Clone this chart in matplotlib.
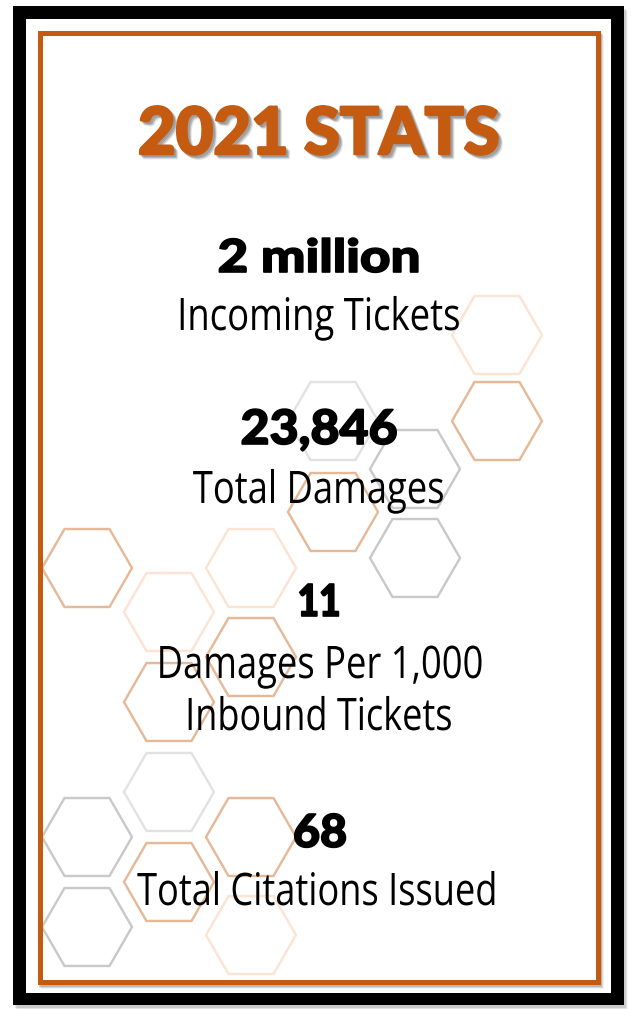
import numpy as np
import matplotlib
matplotlib.use("Agg")
import matplotlib.pyplot as plt
import matplotlib.colors as mcolors
from matplotlib.patches import Rectangle, RegularPolygon
from matplotlib.patheffects import AbstractPathEffect
from matplotlib.transforms import Affine2D
from matplotlib import font_manager

# ---------------- data ----------------
title = "2021 STATS"
stat_values = ["2 million", "23,846", "11", "68"]
stat_labels = ["Incoming Tickets", "Total Damages",
               "Damages Per 1,000\nInbound Tickets", "Total Citations Issued"]

hex_x = [87, 87, 87, 169, 169, 169, 169, 251, 251, 251, 251, 333, 333, 415, 415, 497, 497]
hex_y = [568, 837, 927, 612, 702, 792, 882, 568, 657, 837, 935, 421, 512, 469, 558, 335, 421]
hex_style = ["tan", "gray", "gray", "peach", "tan", "lgray", "tan", "peach", "tan", "tan",
             "peach", "lgray", "tan", "gray", "gray", "peach", "tan"]

# ---------------- styles ----------------
W, H = 631, 1009
ORANGE = "#c55a11"
HEX_COLORS = {"tan": "#e5b898", "peach": "#fce3d3", "lgray": "#e2e2e2", "gray": "#c9c9c9"}
HEX_R = 45


def pick(cands):
    for c in cands:
        try:
            font_manager.findfont(font_manager.FontProperties(family=c), fallback_to_default=False)
            return c
        except Exception:
            pass
    return "DejaVu Sans"


BOLD_FAM = pick(["Lato", "Roboto", "Open Sans", "DejaVu Sans"])
LIGHT_FAM = pick(["Open Sans", "Noto Sans", "Lato", "DejaVu Sans"])


class HScale(AbstractPathEffect):
    """Horizontally condense text path about its centre (optionally as a shadow / emboldened)."""

    def __init__(self, sx, offset=(0, 0), color=None, alpha=1.0, stroke=0.0):
        super().__init__(offset)
        self.sx = sx
        self.color = color
        self.alpha = alpha
        self.stroke = stroke

    def draw_path(self, renderer, gc, tpath, affine, rgbFace=None):
        bb = tpath.get_extents(affine)
        cx = 0.5 * (bb.x0 + bb.x1)
        aff = (affine + Affine2D().translate(-cx, 0).scale(self.sx, 1).translate(cx, 0)
               + self._offset_transform(renderer))
        col = self.color if self.color is not None else rgbFace
        rgba = mcolors.to_rgba(col, self.alpha)
        gc0 = renderer.new_gc()
        gc0.copy_properties(gc)
        gc0.set_foreground(rgba)
        gc0.set_alpha(self.alpha)
        gc0.set_linewidth(self.stroke)
        gc0.set_joinstyle("round")
        renderer.draw_path(gc0, tpath, aff, rgba)
        gc0.restore()


fig = plt.figure(figsize=(W / 100, H / 100), dpi=100)
ax = fig.add_axes([0, 0, 1, 1])
ax.set_xlim(0, W)
ax.set_ylim(H, 0)
ax.axis("off")

# outer shadow + black frame + white inside
for i, a in enumerate([0.10, 0.07, 0.04]):
    ax.add_patch(Rectangle((13 + 2 + i, 6 + 3 + i), 611, 999, color="black", alpha=a, lw=0, zorder=0))
ax.add_patch(Rectangle((13, 6), 611, 999, color="black", lw=0, zorder=1))
ax.add_patch(Rectangle((26, 19), 585, 974, color="white", lw=0, zorder=2))
# shadow of the orange frame
for i, a in enumerate([0.16, 0.10, 0.05]):
    ax.add_patch(Rectangle((37 + 2 + i, 30 + 3 + i), 563, 954, color="black", alpha=a, lw=0, zorder=3))
ax.add_patch(Rectangle((37, 30), 563, 954, facecolor="white", lw=0, zorder=4))
ax.add_patch(Rectangle((39.5, 32.5), 558, 949, facecolor="none", edgecolor=ORANGE,
                       lw=5 * 0.72, zorder=9, joinstyle="miter"))

# hexagons
for x, y, s in zip(hex_x, hex_y, hex_style):
    ax.add_patch(RegularPolygon((x, y), numVertices=6, radius=HEX_R, orientation=np.pi / 6,
                                facecolor="none", edgecolor=HEX_COLORS[s], lw=2.4 * 0.72, zorder=5))

PX2PT = 72 / 100


def put(txt, cx, base, target_w, cap_px, family, weight, color, cap_ratio=0.715,
        shadow=False, stroke=0.0):
    t = ax.text(cx, base, txt, ha="center", va="baseline", fontsize=cap_px / cap_ratio * PX2PT,
                family=family, weight=weight, color=color, zorder=10)
    fig.canvas.draw()
    w = t.get_window_extent().width
    sx = target_w / w
    effects = []
    if shadow:
        for off, a in [((1.4, -1.4), 0.35), ((2.2, -2.2), 0.3), ((3.0, -3.0), 0.18)]:
            effects.append(HScale(sx, offset=off, color="#7f7f7f", alpha=a, stroke=stroke))
    effects.append(HScale(sx, stroke=stroke))
    t.set_path_effects(effects)
    return t


# title
put(title, 319, 154, 362, 46.5, BOLD_FAM, "black", ORANGE, shadow=True, stroke=1.8)

# stats: (value centre, baseline, width, cap) and labels
val_geom = [(319, 272, 203, 32.5), (319, 444, 157, 34), (319, 616, 43, 31.5), (320, 847, 54, 32.5)]
lab_geom = [[(319, 330, 284, 32)], [(319, 503, 252, 32)],
            [(320, 678, 327, 32), (319, 730, 268, 32)], [(318, 905, 361, 32)]]

for v, lab, vg, lg in zip(stat_values, stat_labels, val_geom, lab_geom):
    put(v, vg[0], vg[1], vg[2], vg[3], BOLD_FAM, "black", "black", stroke=1.2)
    for line, g in zip(lab.split("\n"), lg):
        put(line, g[0], g[1], g[2], g[3], LIGHT_FAM, "normal", "black", cap_ratio=0.714)

fig.savefig("out.png", dpi=100)
